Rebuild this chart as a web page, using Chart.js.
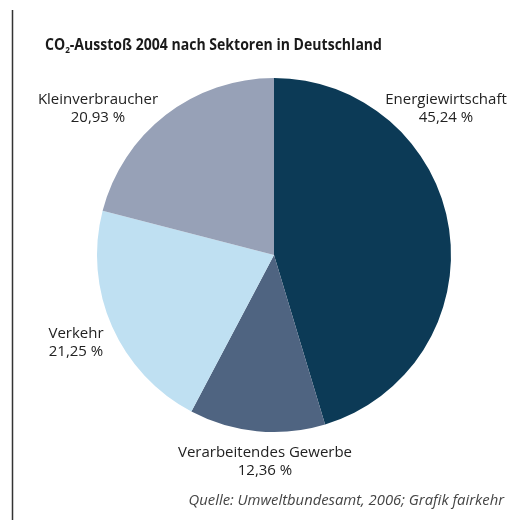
<!DOCTYPE html>
<html lang="de">
<head>
<meta charset="utf-8">
<title>CO2-Ausstoß 2004 nach Sektoren in Deutschland</title>
<script src="https://cdn.jsdelivr.net/npm/chart.js@4/dist/chart.umd.min.js"></script>
<style>
    html, body { margin: 0; padding: 0; background: #fff; }
    #wrap { width: 525px; height: 524px; position: relative; }
</style>
</head>
<body>
<div id="wrap"><canvas id="myChart" width="525" height="524"></canvas></div>
<script>
var sectors = ['Energiewirtschaft', 'Verarbeitendes Gewerbe', 'Verkehr', 'Kleinverbraucher'];
var shares = [45.24, 12.36, 21.25, 20.93];
var sliceColors = ['#0c3a56', '#4f6481', '#bfe0f2', '#97a1b7'];

var titleText = ['CO', '2', '-Ausstoß 2004 nach Sektoren in Deutschland'];
var sourceText = 'Quelle: Umweltbundesamt, 2006; Grafik fairkehr';

// label anchors (centre x, baseline of first line)
var labelAnchors = [[446, 104], [265, 457], [76, 338], [98, 104]];

document.addEventListener('DOMContentLoaded', function ()
{
    function percent(v)
    {
        return v.toFixed(2).replace('.', ',') + ' %';
    }

    var decorations = {
        id: 'decorations',
        afterDraw: function (chart)
        {
            var ctx = chart.ctx;
            ctx.save();

            // frame line on the left
            ctx.strokeStyle = '#333';
            ctx.lineWidth = 1.5;
            ctx.beginPath();
            ctx.moveTo(12.5, 10);
            ctx.lineTo(12.5, 520);
            ctx.stroke();

            // title with subscript, squeezed a little to look condensed
            var bigFont = 'bold 15.5px "Open Sans", sans-serif';
            var subFont = 'bold 9px "Open Sans", sans-serif';
            ctx.fillStyle = '#1a1a1a';
            ctx.textBaseline = 'alphabetic';
            ctx.textAlign = 'left';
            ctx.font = bigFont;
            var w = ctx.measureText(titleText[0]).width + ctx.measureText(titleText[2]).width;
            ctx.font = subFont;
            w += ctx.measureText(titleText[1]).width;
            var squeeze = 337 / w;

            ctx.save();
            ctx.translate(45, 50);
            ctx.scale(squeeze, 1);
            var x = 0;
            ctx.font = bigFont;
            ctx.fillText(titleText[0], x, 0);
            x += ctx.measureText(titleText[0]).width;
            ctx.font = subFont;
            ctx.fillText(titleText[1], x, 3);
            x += ctx.measureText(titleText[1]).width;
            ctx.font = bigFont;
            ctx.fillText(titleText[2], x, 0);
            ctx.restore();

            // sector labels
            ctx.textAlign = 'center';
            ctx.fillStyle = '#222';
            ctx.font = '15px "Open Sans", "Noto Sans", sans-serif';
            chart.data.labels.forEach(function (name, i)
            {
                var a = labelAnchors[i];
                ctx.fillText(name, a[0], a[1]);
                ctx.fillText(percent(chart.data.datasets[0].data[i]), a[0], a[1] + 18);
            });

            // source line
            ctx.textAlign = 'right';
            ctx.fillStyle = '#444';
            ctx.font = 'italic 14.8px "Open Sans", "Noto Sans", sans-serif';
            ctx.fillText(sourceText, 504, 505);

            ctx.restore();
        }
    };

    function genGraph()
    {
        var ctx = document.getElementById('myChart').getContext('2d');
        var myChart = new Chart(ctx, {
            type: 'pie',
            data: {
                labels: sectors,
                datasets: [{
                    data: shares,
                    backgroundColor: sliceColors,
                    borderWidth: 0
                }]
            },
            options: {
                responsive: false,
                animation: false,
                layout: {
                    padding: {left: 97, right: 74, top: 78, bottom: 92}
                },
                plugins: {
                    legend: {display: false},
                    tooltip: {enabled: false}
                }
            },
            plugins: [decorations]
        });
    }

    genGraph();
});
</script>
</body>
</html>
